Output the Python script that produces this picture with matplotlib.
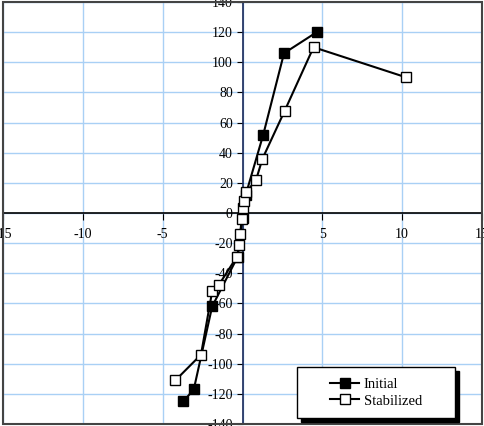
import numpy as np
import matplotlib.pyplot as plt
from matplotlib.patches import Rectangle

# initial (filled) and stabilized (open) loops
init_x = [-3.7, -3.05, -1.9, -0.3, 0.0, 0.2, 1.3, 2.6, 4.65]
init_y = [-125, -117, -62, -29, -3, 12, 52, 106, 120]

stab_x = [-4.2, -2.6, -1.9, -1.5, -0.35, -0.2, -0.15, -0.05, 0.05, 0.1, 0.25, 0.85, 1.25, 2.65, 4.45, 10.25]
stab_y = [-111, -94, -52, -48, -29, -21, -14, -4, 3, 8, 14, 22, 36, 68, 110, 90]

xticks = [-15, -10, -5, 0, 5, 10, 15]
yticks = list(range(-140, 141, 20))

plt.rcParams['font.family'] = ['Liberation Serif', 'DejaVu Serif']

fig = plt.figure(figsize=(4.84, 4.26), dpi=100)
ax = fig.add_axes([3/484, 2/426, 479/484, 422/426])

ax.plot(init_x, init_y, '-s', color='black', mfc='black', mec='black', ms=7.5, lw=1.5, label='Initial', zorder=3)
ax.plot(stab_x, stab_y, '-s', color='black', mfc='white', mec='black', ms=7.5, lw=1.5, label='Stabilized', zorder=4)

ax.set_xlim(-15, 15)
ax.set_ylim(-140, 140)
ax.set_xticks(xticks)
ax.set_yticks(yticks)
ax.set_xticklabels([str(v) if v != 0 else '' for v in xticks])
ax.set_yticklabels([str(v) for v in yticks])
ax.grid(True, color='#a9d0f5', lw=1)
ax.set_axisbelow(True)

ax.spines['left'].set_position('zero')
ax.spines['bottom'].set_position('zero')
ax.spines['left'].set_color('#1a2a5a')
ax.spines['left'].set_linewidth(1.2)
ax.spines['bottom'].set_linewidth(1.2)
ax.spines['top'].set_visible(False)
ax.spines['right'].set_visible(False)
ax.tick_params(axis='x', direction='out', length=5, labelsize=10, pad=6)
ax.tick_params(axis='y', direction='out', length=4, labelsize=10, pad=3)

ax.add_patch(Rectangle((0, 0), 1, 1, transform=ax.transAxes, fill=False,
                       ec='#444444', lw=1.5, clip_on=False, zorder=5))

# legend box with hard shadow
bx, by, bw, bh = 0.614, 0.014, 0.330, 0.121
ax.add_patch(Rectangle((bx + 0.0084, by - 0.0095), bw, bh, transform=ax.transAxes,
                       fc='black', ec='black', zorder=6, clip_on=False))
ax.add_patch(Rectangle((bx, by), bw, bh, transform=ax.transAxes,
                       fc='white', ec='black', lw=1, zorder=7, clip_on=False))
leg = ax.legend(loc='center', bbox_to_anchor=(bx + bw / 2, by + bh / 2), frameon=False,
                fontsize=10.5, handlelength=2.0, handletextpad=0.3, labelspacing=0.25)
leg.set_zorder(8)

fig.savefig('out.png', dpi=100)
